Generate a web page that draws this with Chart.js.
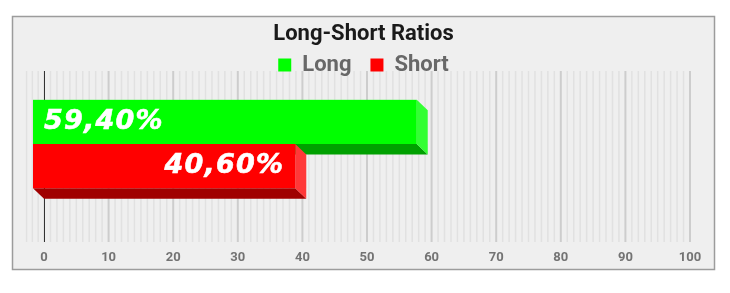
<!DOCTYPE html>
<html>
<head>
<meta charset="utf-8">
<script src="https://cdn.jsdelivr.net/npm/chart.js@4/dist/chart.umd.min.js"></script>
<style>
    html, body { margin: 0; padding: 0; background: #fff; }
    #wrap { width: 730px; height: 293px; }
</style>
</head>
<body>
<div id="wrap"><canvas id="ratioplot" width="730" height="293"></canvas></div>
<script>
// values
var rowLabels = ["Ratio"];
var seriesNames = ["Long", "Short"];
var seriesValues = [59.4, 40.6];
var axisMin = 0;
var axisMax = 100;
var axisStep = 10;

// front / side / bottom colours of each bar
var faceColors = [
    { front: "#00ff00", side: "#33ff33", bottom: "#00a000", align: "start" },
    { front: "#ff0000", side: "#ff3838", bottom: "#a00000", align: "end" }
];
var depthX = 11;
var depthY = 10.5;

function formatRatio(v) {
    return v.toFixed(2).replace(".", ",") + "%";
}

// panel background, border and the vertical grid (drawn before title/legend)
var panelPlugin = {
    id: "panel",
    beforeDraw: function (chart) {
        var ctx = chart.ctx;
        var xs = chart.scales.x;
        var area = chart.chartArea;
        var top = area.top - 6;
        var bottom = area.bottom + 10;

        ctx.save();
        ctx.fillStyle = "#ffffff";
        ctx.fillRect(0, 0, chart.width, chart.height);
        ctx.fillStyle = "#efefef";
        ctx.fillRect(12, 16, 703, 254);
        ctx.strokeStyle = "#9c9c9c";
        ctx.lineWidth = 1.5;
        ctx.strokeRect(12.5, 16.5, 702, 253);

        for (var v = -2.7; v < 0; v += 0.9) {
            var px = xs.getPixelForValue(v);
            ctx.strokeStyle = "#e1e1e1";
            ctx.lineWidth = 1.5;
            ctx.beginPath(); ctx.moveTo(px, top); ctx.lineTo(px, bottom); ctx.stroke();
        }
        for (var i = axisMin + 1; i <= axisMax; i++) {
            var p = xs.getPixelForValue(i);
            if (i % axisStep === 0) {
                ctx.strokeStyle = "#cdcdcd";
                ctx.lineWidth = 2;
            } else {
                ctx.strokeStyle = "#e1e1e1";
                ctx.lineWidth = 1.5;
            }
            ctx.beginPath(); ctx.moveTo(p, top); ctx.lineTo(p, bottom); ctx.stroke();
        }
        var zx = Math.round(xs.getPixelForValue(0)) + 0.5;
        ctx.strokeStyle = "#333333";
        ctx.lineWidth = 1;
        ctx.beginPath(); ctx.moveTo(zx, top); ctx.lineTo(zx, bottom); ctx.stroke();
        ctx.restore();
    }
};

var bars3dPlugin = {
    id: "bars3d",
    beforeDatasetsDraw: function (chart) {
        var ctx = chart.ctx;
        ctx.save();

        // bars with a depth offset
        chart.data.datasets.forEach(function (ds, di) {
            var meta = chart.getDatasetMeta(di);
            var col = faceColors[di];
            meta.data.forEach(function (bar) {
                var x0 = bar.base, x1 = bar.x;
                var yT = bar.y - bar.height / 2, yB = bar.y + bar.height / 2;

                ctx.fillStyle = col.bottom;
                ctx.beginPath();
                ctx.moveTo(x0 - depthX, yB - depthY);
                ctx.lineTo(x1 - depthX, yB - depthY);
                ctx.lineTo(x1, yB);
                ctx.lineTo(x0, yB);
                ctx.closePath(); ctx.fill();

                ctx.fillStyle = col.side;
                ctx.beginPath();
                ctx.moveTo(x1 - depthX, yT - depthY);
                ctx.lineTo(x1, yT);
                ctx.lineTo(x1, yB);
                ctx.lineTo(x1 - depthX, yB - depthY);
                ctx.closePath(); ctx.fill();

                ctx.fillStyle = col.front;
                ctx.fillRect(x0 - depthX, yT - depthY, x1 - x0, bar.height);
            });
        });

        // value labels
        ctx.font = "italic bold 27px 'DejaVu Sans'";
        ctx.fillStyle = "#ffffff";
        ctx.strokeStyle = "#ffffff";
        ctx.lineWidth = 0.6;
        ctx.textBaseline = "middle";
        try { ctx.letterSpacing = "1.2px"; } catch (e) {}
        chart.data.datasets.forEach(function (ds, di) {
            var meta = chart.getDatasetMeta(di);
            meta.data.forEach(function (bar, j) {
                var txt = formatRatio(ds.data[j]);
                var cy = bar.y - depthY;
                var tx;
                if (faceColors[di].align === "start") {
                    ctx.textAlign = "left";
                    tx = bar.base - depthX + 11;
                } else {
                    ctx.textAlign = "right";
                    tx = bar.x - depthX - 11;
                }
                ctx.fillText(txt, tx, cy);
                ctx.strokeText(txt, tx, cy);
            });
        });
        ctx.restore();
        return false;
    }
};

function createChart() {
    var ctx = document.getElementById("ratioplot").getContext("2d");
    var datasets = seriesNames.map(function (name, i) {
        return {
            label: name,
            data: [seriesValues[i]],
            backgroundColor: faceColors[i].front,
            borderWidth: 0,
            barPercentage: 1,
            categoryPercentage: 0.57
        };
    });

    new Chart(ctx, {
        type: "bar",
        data: {
            labels: rowLabels,
            datasets: datasets
        },
        options: {
            responsive: false,
            animation: false,
            indexAxis: "y",
            layout: {
                padding: { top: 16, left: 37, right: 40, bottom: 21 }
            },
            plugins: {
                title: {
                    display: true,
                    text: "Long-Short Ratios",
                    color: "#1a1a1a",
                    font: { family: "Roboto", size: 22, weight: "bold", lineHeight: 1 },
                    padding: { top: 7, bottom: -10 }
                },
                legend: {
                    display: true,
                    maxHeight: 42,
                    labels: {
                        color: "#686868",
                        boxWidth: 13,
                        boxHeight: 13,
                        padding: 19,
                        font: { family: "Roboto", size: 22, weight: "bold" }
                    }
                },
                tooltip: { enabled: false }
            },
            scales: {
                x: {
                    min: axisMin,
                    max: axisMax,
                    grid: { display: false },
                    border: { display: false },
                    afterFit: function (s) { s.height = 40; },
                    ticks: {
                        stepSize: axisStep,
                        padding: 10,
                        color: "#737373",
                        font: { family: "Roboto", size: 13, weight: "bold" }
                    }
                },
                y: {
                    display: true,
                    afterFit: function (s) { s.width = 7; },
                    grid: { display: false },
                    border: { display: false },
                    ticks: { display: false }
                }
            }
        },
        plugins: [panelPlugin, bars3dPlugin]
    });
}

createChart();
</script>
</body>
</html>
